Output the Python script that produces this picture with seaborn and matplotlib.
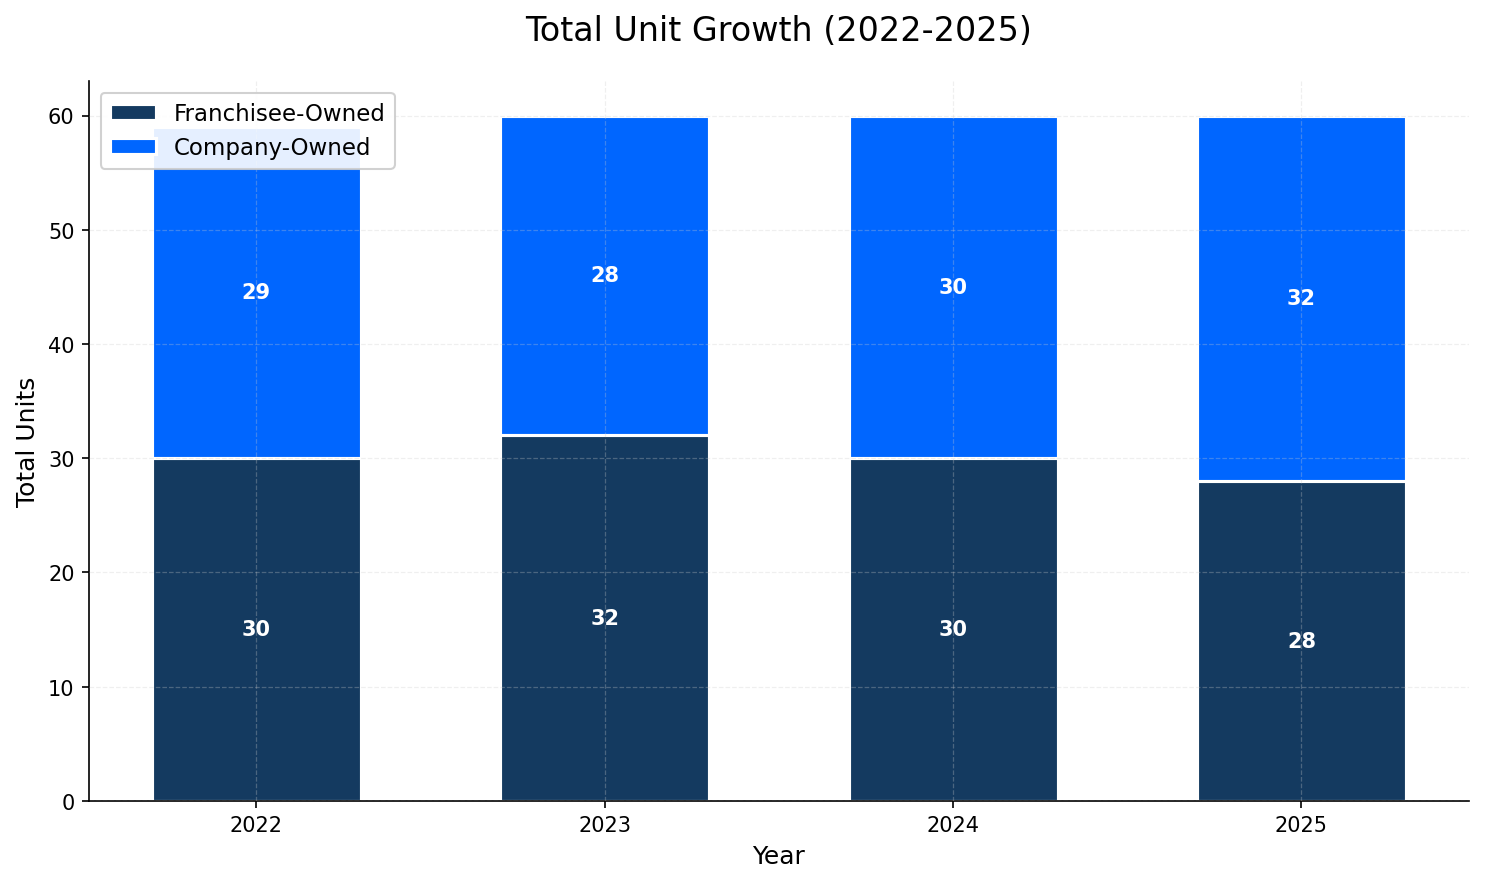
import pandas as pd
import matplotlib.pyplot as plt
import seaborn as sns

years = ["2022", "2023", "2024", "2025"]
franchisee = [30, 32, 30, 28]
company = [29, 28, 30, 32]

df = pd.DataFrame({"Year": years, "Franchisee-Owned": franchisee, "Company-Owned": company})
df["Total"] = df["Franchisee-Owned"] + df["Company-Owned"]

dark = "#143A60"
bright = "#0066FF"

sns.set_style("ticks")
plt.rcParams['font.family'] = ['DejaVu Sans']
plt.rcParams.update({
    "text.color": "black",
    "axes.labelcolor": "black",
    "axes.edgecolor": "black",
    "xtick.color": "black",
    "ytick.color": "black",
})

fig, ax = plt.subplots(figsize=(9.9, 5.893), dpi=150)

# stacked look: total bar first, franchisee bar drawn over its lower part
sns.barplot(data=df, x="Year", y="Total", color=bright, width=0.6,
            edgecolor="white", linewidth=1.5, saturation=1, label="Company-Owned", ax=ax)
sns.barplot(data=df, x="Year", y="Franchisee-Owned", color=dark, width=0.6,
            edgecolor="white", linewidth=1.5, saturation=1, label="Franchisee-Owned", ax=ax)

for i, row in df.iterrows():
    f = row["Franchisee-Owned"]
    c = row["Company-Owned"]
    ax.text(i, f / 2, str(f), ha="center", va="center", color="white",
            fontsize=10, fontweight="bold")
    ax.text(i, f + c / 2, str(c), ha="center", va="center", color="white",
            fontsize=10, fontweight="bold")

ax.set_xlim(-0.48, len(years) - 1 + 0.48)
ax.set_axisbelow(False)
ax.grid(True, linestyle="--", alpha=0.3, linewidth=0.6)
sns.despine(ax=ax)

handles, labels = ax.get_legend_handles_labels()
ax.legend(handles[::-1], labels[::-1], loc="upper left", fontsize=11, framealpha=0.9)

ax.set_title("Total Unit Growth (2022-2025)", fontsize=16, pad=20)
ax.set_xlabel("Year", fontsize=12)
ax.set_ylabel("Total Units", fontsize=12)
ax.tick_params(labelsize=10)

plt.subplots_adjust(left=0.06, right=0.989, bottom=0.093, top=0.907)
plt.savefig("out.png")
